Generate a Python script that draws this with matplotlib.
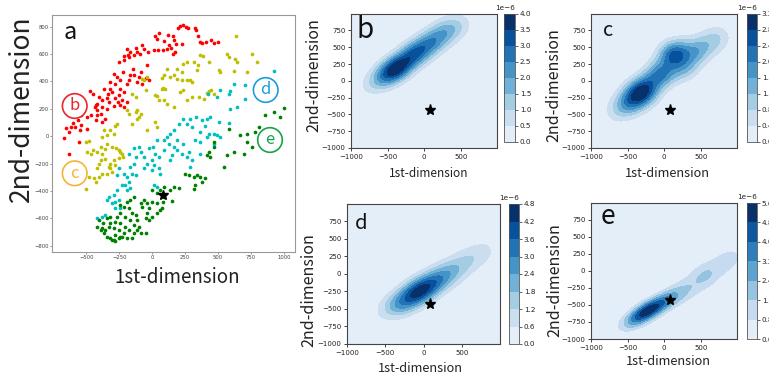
import numpy as np
import matplotlib
matplotlib.use("Agg")
import matplotlib.pyplot as plt
from matplotlib.patches import Circle

W, H = 769, 374
LBL = ['Noto Sans CJK JP', 'DejaVu Sans']

# ---------------- panel a: embedded points, one list per cluster ----------------
red_pts = [(215, 803), (197, 791), (232, 810), (255, 798), (273, 791), (323, 788), (333, 776),
           (348, 730), (361, 689), (381, 681), (409, 689), (447, 701), (467, 681), (500, 689),
           (20, 730), (38, 713), (50, 754), (88, 696), (121, 737), (157, 730), (164, 701), (182, 676), (227, 676),
           (13, 628), (43, 632), (83, 632), (114, 640), (144, 645), (159, 603), (172, 616), (126, 664),
           (-76, 664), (-63, 640), (-30, 616),
           (-126, 645), (-114, 616), (-134, 591), (-93, 603), (-164, 616), (-189, 640), (-182, 596), (-177, 579),
           (-210, 555), (-252, 543), (-215, 584),
           (-38, 518), (-88, 470), (-101, 433), (-50, 428), (-25, 409), (-76, 384), (-114, 396),
           (-146, 494), (-164, 445), (-139, 445), (-177, 409), (-189, 384), (-220, 470), (-245, 409), (-265, 433), (-290, 457),
           (-316, 397), (-278, 384), (-316, 348), (-303, 324), (-336, 311), (-366, 348), (-346, 280), (-379, 263),
           (-404, 287), (-417, 238), (-379, 214), (-417, 190), (-429, 226),
           (-240, 348), (-215, 324), (-252, 299), (-285, 282), (-260, 251), (-227, 263), (-194, 251), (-240, 226),
           (-210, 214), (-290, 219), (-328, 251), (-341, 202),
           (-434, 214), (-417, 153), (-391, 165), (-354, 129), (-379, 104), (-429, 116), (-467, 153), (-492, 141),
           (-472, 331), (-452, 311),
           (-538, 153), (-563, 117), (-598, 97), (-588, 68), (-543, 80), (-619, 68), (-657, 63), (-631, 32),
           (-548, 44), (-492, 56), (-556, -41), (-631, -131), (-669, -17)]

yellow_pts = [(639, 730), (758, 603), (800, 543), (568, 603), (581, 579), (631, 567), (644, 543), (624, 477),
              (720, 470), (505, 482), (518, 470),
              (366, 591), (386, 584), (316, 543), (348, 518), (429, 543), (341, 482), (265, 543), (235, 530),
              (227, 470), (189, 494), (164, 445), (227, 409), (265, 409), (290, 409), (303, 397),
              (114, 494), (139, 433), (88, 445), (76, 428), (189, 416), (101, 348), (83, 355), (76, 341), (38, 292),
              (25, 299), (50, 263), (88, 263), (114, 238), (164, 214), (215, 324), (235, 336), (265, 263), (303, 287),
              (353, 287), (391, 275), (417, 316), (429, 331), (447, 336), (467, 311),
              (-50, 336), (-63, 409), (-38, 433), (-76, 421), (-151, 311), (-126, 287), (-114, 190), (-126, 178),
              (-88, 165), (-101, 141), (-114, 129), (-151, 92), (-177, 165), (-189, 190),
              (-265, 92), (-278, 73), (-316, 44), (-366, 44), (-379, -5), (-341, 7), (-290, 19),
              (-505, -41), (-480, -34), (-492, -114), (-467, -127), (-447, -102), (-417, -114), (-391, -78),
              (-379, -127), (-361, -97), (-346, -54),
              (-303, -78), (-273, -90), (-252, -102), (-240, -114), (-227, -127), (-220, -151), (-252, -163),
              (-290, -175), (-316, -200), (-328, -224), (-316, -236), (-303, -260), (-278, -212), (-341, -273),
              (-379, -273), (-404, -297), (-442, -309), (-480, -297), (-500, -389), (-429, -333), (-417, -236),
              (-404, -204), (-391, -175), (-358, -170),
              (25, 105), (38, 68), (-38, 44)]

cyan_pts = [(927, 477), (707, 372), (619, 384), (588, 331), (581, 311), (518, 336), (492, 287), (422, 311),
            (707, 268), (644, 214), (593, 195), (505, 105), (586, 97), (437, 141), (417, 129), (379, 117),
            (336, 141), (285, 129), (235, 129), (202, 88),
            (492, 7), (518, -5), (467, 19), (429, 19),
            (164, 44), (139, 19), (114, -5), (88, -29), (126, -54), (164, -78), (189, -102), (227, -127),
            (265, -151), (303, -175), (278, -114), (235, -54), (189, -29), (151, -139),
            (38, -29), (8, -78), (-25, -90), (25, -127), (50, -151), (0, -175), (18, -212), (50, -236),
            (63, -273), (0, -248), (-38, -200), (-63, -151), (-88, -114),
            (-126, -151), (-139, -200), (-164, -224), (-151, -273), (-126, -285), (-189, -297), (-177, -333),
            (-202, -358), (-227, -358), (-215, -273), (-252, -236), (-265, -285),
            (13, -358), (38, -370), (-265, -394), (-290, -431), (-328, -443), (-341, -467), (-303, -491),
            (-278, -479), (-252, -467), (-189, -394), (-164, -382), (-240, -528), (-278, -528), (-354, -577),
            (265, 92), (303, 68), (404, 73), (366, 32), (328, -29), (366, -41), (417, -5), (467, -54),
            (366, -127), (290, -224), (-379, -589), (-417, -601),
            (-139, -90), (-177, -127), (88, -102), (139, -175), (-63, -236), (-101, -78)]

green_pts = [(1005, 209), (927, 178), (972, 141), (859, 153),
             (808, 68), (783, 32), (720, 19), (669, 7), (720, -41), (758, -78), (694, -127), (619, -114),
             (581, 56), (568, -139), (543, -224), (467, -41), (429, -114), (417, -139), (442, -151), (467, -78),
             (252, -273), (278, -285), (316, -297), (341, -285), (366, -297), (379, -333), (328, -358),
             (164, -370), (202, -382), (139, -394), (316, -387), (404, -309), (154, -474),
             (83, -479), (38, -491), (0, -479), (-38, -491), (-63, -467), (-88, -491), (-76, -516), (-25, -528),
             (-38, -564), (0, -589), (38, -564), (63, -540), (88, -443), (76, -528),
             (-139, -443), (-164, -467), (-189, -479), (-215, -516), (-240, -504), (-177, -528), (-151, -564),
             (-126, -577), (-114, -613), (-139, -650), (-101, -662), (-164, -613), (-202, -589), (-240, -564),
             (-265, -589), (-278, -625), (-240, -637), (-202, -662), (-177, -686), (-215, -710), (-252, -686),
             (-290, -674),
             (-316, -589), (-341, -601), (-316, -637), (-328, -662), (-354, -686), (-379, -674), (-366, -710),
             (-341, -735), (-316, -747), (-290, -759), (-278, -722), (-252, -747), (-227, -735), (-189, -747),
             (-303, -762), (-278, -769), (-240, -740),
             (-404, -613), (-391, -686), (-417, -662), (-371, -632),
             (-50, -601), (-25, -613), (-88, -710), (-114, -686), (-139, -710), (-151, -747), (-50, -710),
             (63, -394), (88, -370), (38, -418), (0, -394)]

star_xy = (80, -430)

# ---------------- panels b-e: density ridges (x, y, height in 1e-6, cross width) ----------------
b_ridge = [(-720, -60, 0.5, 120), (-520, 80, 2.0, 120), (-350, 210, 3.05, 120), (-130, 400, 2.5, 125),
           (80, 560, 1.9, 125), (280, 720, 1.4, 130), (470, 830, 0.65, 135)]
c_ridge = [(-620, -440, 0.55, 130), (-450, -300, 1.6, 135), (-290, -150, 2.55, 135), (-60, 90, 1.85, 135),
           (130, 400, 2.2, 130), (270, 200, 1.1, 130), (450, 450, 1.25, 135), (700, 620, 0.8, 135)]
d_ridge = [(-480, -520, 0.6, 120), (-280, -410, 2.2, 120), (-70, -260, 3.55, 120), (130, -120, 2.45, 120),
           (340, 20, 1.6, 125), (560, 180, 0.95, 130), (780, 320, 0.65, 130)]
e_ridge = [(-520, -790, 0.7, 85), (-360, -680, 2.85, 85), (-190, -565, 3.75, 85), (0, -450, 2.55, 85),
           (190, -340, 1.35, 105), (380, -220, 0.9, 120), (570, -60, 1.45, 125), (800, 100, 0.85, 125),
           (960, 230, 0.6, 125)]
ridge_angle = {'b': 38, 'c': 40, 'd': 32, 'e': 33}
ridge_len = {'b': 150, 'c': 150, 'd': 150, 'e': 140}

b_levels = [0.0, 0.5, 1.0, 1.5, 2.0, 2.5, 3.0, 3.5, 4.0]
c_levels = [0.0, 0.4, 0.8, 1.2, 1.6, 2.0, 2.4, 2.8, 3.2]
d_levels = [0.0, 0.6, 1.2, 1.8, 2.4, 3.0, 3.6, 4.2, 4.8]
e_levels = [0.0, 0.8, 1.6, 2.4, 3.2, 4.0, 4.8, 5.6]


def fx(px):
    return px / W


def fy(py):
    return 1 - py / H


def rect(l, t, r, b):
    return [l / W, 1 - b / H, (r - l) / W, (b - t) / H]


fig = plt.figure(figsize=(W / 100, H / 100), dpi=100)

# ---------------- panel a ----------------
ax = fig.add_axes(rect(52, 15, 295, 252))
for pts, col in [(red_pts, 'r'), (yellow_pts, 'y'), (cyan_pts, 'c'), (green_pts, 'g')]:
    arr = np.array(pts)
    ax.scatter(arr[:, 0], arr[:, 1], s=7, c=col, linewidths=0)
ax.plot(*star_xy, marker='*', color='k', ms=7)
ax.set_xlim(-760, 1085)
ax.set_ylim(-846, 885)
ax.set_xticks([-500, -250, 0, 250, 500, 750, 1000])
ax.set_yticks(np.arange(-800, 801, 200))
ax.tick_params(labelsize=3.8, length=1.5, width=0.4, pad=1, colors='#444444')
for s in ax.spines.values():
    s.set_color('#999999')
    s.set_linewidth(0.8)

fig.text(fx(70.7), fy(39.3), 'a', family=LBL, fontsize=17, ha='center', va='baseline', color='#111111')
fig.text(fx(176.7), fy(283.3), '1st-dimension', family=LBL, fontsize=13.5,
         ha='center', va='baseline', color='#222222')
fig.text(fx(21.3), fy(108.3), '2nd-dimension', family=LBL, fontsize=19,
         ha='center', va='center', rotation=90, color='#222222')

# circled cluster tags
tags = [('b', 74.7, 106, '#e8262d'), ('c', 74.7, 173.3, '#f7b335'),
        ('d', 265.7, 90, '#1a9de0'), ('e', 270, 140, '#18a34a')]
for letter, cx, cy, col in tags:
    fig.add_artist(Circle((cx / 100, (H - cy) / 100), 0.123, transform=fig.dpi_scale_trans,
                          facecolor='white', edgecolor=col, linewidth=1.2))
    fig.text(fx(cx), fy(cy), letter, family=LBL, fontsize=12, color=col,
             ha='center', va='center')

# ---------------- panels b-e ----------------
grid = np.linspace(-1000, 995, 260)
gx, gy = np.meshgrid(grid, grid)

panels = [
    ('b', b_ridge, b_levels, (351, 14, 497, 148), (504, 14, 515, 142),
     (365, 38.3, 20), (428.8, 176.7, 8.5), (314, 75.3)),
    ('c', c_ridge, c_levels, (591, 14, 737, 148), (747, 14, 757, 142),
     (608, 35.7, 14.5), (667.5, 176.7, 9.2), (553.7, 85)),
    ('d', d_ridge, d_levels, (347, 204, 500, 344), (509, 204, 519, 344),
     (361, 229.3, 14.5), (420, 372, 9.2), (309, 290)),
    ('e', e_ridge, e_levels, (591, 203, 737, 339), (747, 203, 757, 339),
     (608, 224.3, 19), (668, 365, 9.2), (555, 280)),
]

for key, ridge, levels, box, cbox, letter_pos, xl_pos, yl_pos in panels:
    th = np.deg2rad(ridge_angle[key])
    z = np.zeros_like(gx)
    for cx, cy, h, w in ridge:
        dx, dy = gx - cx, gy - cy
        u = dx * np.cos(th) + dy * np.sin(th)
        v = -dx * np.sin(th) + dy * np.cos(th)
        z += h * np.exp(-0.5 * ((u / ridge_len[key]) ** 2 + (v / w) ** 2))
    lv = np.array(levels) * 1e-6
    z = np.clip(z * 1e-6, 0, lv[-1] * 0.999)

    ax = fig.add_axes(rect(*box))
    cols = plt.cm.Blues(np.linspace(0.1, 1.0, len(lv) - 1))
    cs = ax.contourf(gx, gy, z, levels=lv, colors=cols)
    ax.plot(*star_xy, marker='*', color='k', ms=8)
    ax.set_xlim(-1000, 995)
    ax.set_ylim(-1000, 995)
    ax.set_xticks([-1000, -500, 0, 500])
    ax.set_yticks(np.arange(-1000, 751, 250))
    ax.tick_params(labelsize=5, length=2.5, width=0.6, pad=1.5, colors='#222222')
    for s in ax.spines.values():
        s.set_color('#444444')
        s.set_linewidth(0.8)

    cax = fig.add_axes(rect(*cbox))
    cb = fig.colorbar(cs, cax=cax, ticks=lv)
    cb.ax.tick_params(labelsize=5.2, length=2, width=0.5, pad=1.5, colors='#222222')
    cb.outline.set_edgecolor('#555555')
    cb.outline.set_linewidth(0.6)
    off = cb.ax.yaxis.get_offset_text()
    off.set_fontsize(5.2)
    off.set_horizontalalignment('right')

    lx, ly, lfs = letter_pos
    fig.text(fx(lx), fy(ly), key, family=LBL, fontsize=lfs, ha='center', va='baseline', color='#111111')
    xx, xy, xfs = xl_pos
    fig.text(fx(xx), fy(xy), '1st-dimension', family=LBL, fontsize=xfs,
             ha='center', va='baseline', color='#222222')
    yx, yy = yl_pos
    fig.text(fx(yx), fy(yy), '2nd-dimension', family=LBL, fontsize=11.5,
             ha='center', va='center', rotation=90, color='#222222')

fig.savefig('out.png', dpi=100)
